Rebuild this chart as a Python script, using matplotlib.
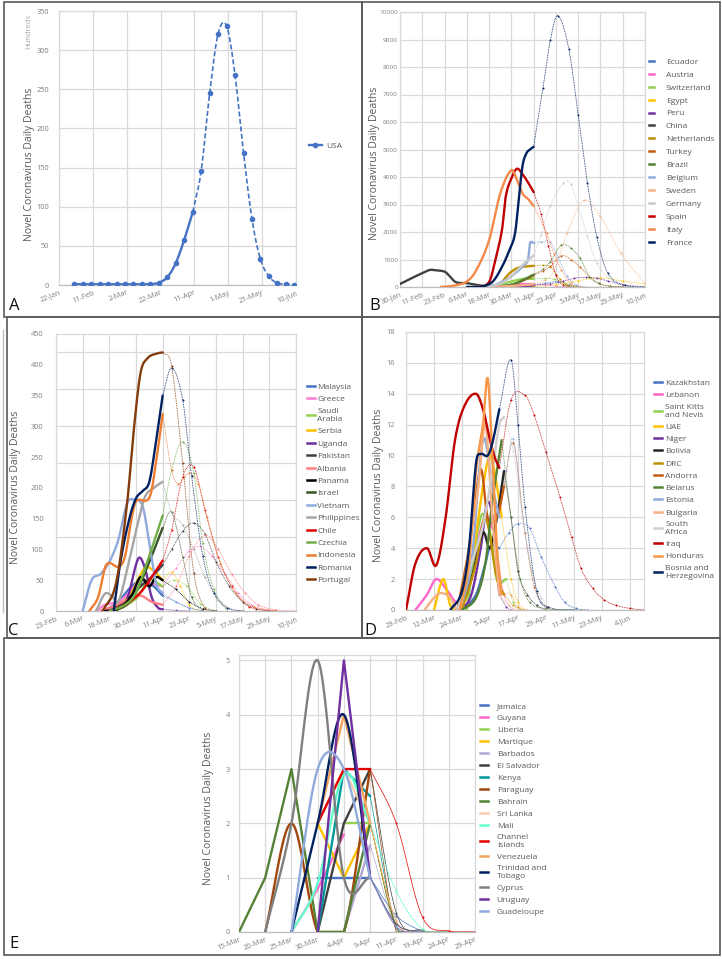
import datetime as dt
import numpy as np
import matplotlib
matplotlib.use('Agg')
import matplotlib.pyplot as plt
import matplotlib.dates as mdates
from matplotlib.lines import Line2D
from matplotlib.patches import Rectangle

# ------------------------------------------------------------------ data
# Panel A : USA (hundreds of deaths)
A_dates = ['31-Jan', '5-Feb', '10-Feb', '15-Feb', '20-Feb', '25-Feb', '1-Mar', '6-Mar', '11-Mar',
           '16-Mar', '21-Mar', '26-Mar', '31-Mar', '5-Apr', '10-Apr', '15-Apr', '20-Apr', '25-Apr',
           '30-Apr', '5-May', '10-May', '15-May', '20-May', '25-May', '30-May', '4-Jun', '9-Jun']
A_usa = [1, 1, 1, 1, 1, 1, 1, 1, 1, 1, 3, 10, 28, 58, 93, 146, 245, 321, 331, 268, 169, 84, 33, 11, 2.5, 1, 0]
A_observed_points = 15
A_xticks = ['22-Jan', '11-Feb', '2-Mar', '22-Mar', '11-Apr', '1-May', '21-May', '10-Jun']
A_yticks = [0, 50, 100, 150, 200, 250, 300, 350]

# Panel B
B_names = ['Ecuador', 'Austria', 'Switzerland', 'Egypt', 'Peru', 'China', 'Netherlands', 'Turkey',
           'Brazil', 'Belgium', 'Sweden', 'Germany', 'Spain', 'Italy', 'France']
B_obs = {
    'Ecuador': (['18-Mar', '30-Mar', '11-Apr'], [0, 30, 60]),
    'Austria': (['16-Mar', '26-Mar', '4-Apr', '11-Apr'], [0, 40, 100, 110]),
    'Switzerland': (['14-Mar', '22-Mar', '30-Mar', '5-Apr', '11-Apr'], [0, 50, 200, 290, 300]),
    'Egypt': (['18-Mar', '1-Apr', '11-Apr'], [0, 10, 20]),
    'Peru': (['18-Mar', '1-Apr', '11-Apr'], [0, 20, 60]),
    'China': (['30-Jan', '7-Feb', '11-Feb', '15-Feb', '18-Feb', '23-Feb', '25-Feb', '29-Feb', '6-Mar',
               '11-Mar', '16-Mar', '20-Mar'], [110, 380, 500, 620, 610, 560, 450, 180, 140, 80, 20, 5]),
    'Netherlands': (['12-Mar', '18-Mar', '24-Mar', '29-Mar', '2-Apr', '6-Apr', '11-Apr'], [0, 30, 130, 500, 680, 740, 770]),
    'Turkey': (['18-Mar', '28-Mar', '4-Apr', '11-Apr'], [0, 50, 200, 420]),
    'Brazil': (['18-Mar', '25-Mar', '1-Apr', '6-Apr', '11-Apr'], [0, 30, 120, 280, 450]),
    'Belgium': (['12-Mar', '20-Mar', '28-Mar', '2-Apr', '5-Apr', '8-Apr', '9-Apr', '11-Apr'],
                [0, 50, 300, 550, 740, 1000, 1580, 1600]),
    'Sweden': (['14-Mar', '25-Mar', '4-Apr', '11-Apr'], [0, 20, 60, 100]),
    'Germany': (['10-Mar', '18-Mar', '25-Mar', '30-Mar', '5-Apr', '11-Apr'], [0, 20, 150, 400, 800, 1150]),
    'Spain': (['12-Mar', '18-Mar', '21-Mar', '25-Mar', '27-Mar', '30-Mar', '2-Apr', '5-Apr', '8-Apr', '11-Apr'],
              [0, 180, 870, 2100, 3300, 3950, 4300, 4100, 3800, 3450]),
    'Italy': (['21-Feb', '28-Feb', '6-Mar', '11-Mar', '18-Mar', '24-Mar', '30-Mar', '2-Apr', '5-Apr', '8-Apr', '11-Apr'],
              [0, 50, 200, 600, 1700, 3400, 4250, 3900, 3400, 3200, 2950]),
    'France': (['6-Mar', '14-Mar', '20-Mar', '25-Mar', '29-Mar', '1-Apr', '3-Apr', '5-Apr', '7-Apr', '9-Apr', '11-Apr'],
               [0, 20, 200, 740, 1350, 1960, 3200, 4400, 4850, 5000, 5100]),
}
B_proj = {
    'Ecuador': (['11-Apr', '17-Apr', '24-Apr', '30-Apr', '6-May'], [60, 130, 200, 90, 0]),
    'Austria': (['11-Apr', '17-Apr', '23-Apr', '29-Apr'], [110, 80, 20, 0]),
    'Switzerland': (['11-Apr', '17-Apr', '22-Apr', '28-Apr', '5-May'], [300, 310, 280, 120, 0]),
    'Egypt': (['11-Apr', '23-Apr', '5-May', '17-May', '29-May', '10-Jun'], [20, 90, 230, 330, 220, 110]),
    'Peru': (['11-Apr', '20-Apr', '27-Apr', '3-May', '9-May', '15-May', '21-May', '29-May', '10-Jun'],
             [60, 120, 220, 320, 350, 320, 220, 80, 10]),
    'Netherlands': (['11-Apr', '16-Apr', '20-Apr', '25-Apr', '29-Apr', '5-May'], [770, 790, 740, 300, 80, 0]),
    'Turkey': (['11-Apr', '16-Apr', '20-Apr', '26-Apr', '1-May', '6-May', '11-May', '16-May', '22-May', '29-May'],
               [420, 580, 750, 1140, 1000, 720, 380, 130, 30, 5]),
    'Brazil': (['11-Apr', '16-Apr', '20-Apr', '26-Apr', '1-May', '6-May', '11-May', '16-May', '22-May', '29-May'],
               [450, 650, 925, 1530, 1420, 1050, 380, 130, 30, 5]),
    'Belgium': (['11-Apr', '15-Apr', '20-Apr', '24-Apr', '29-Apr', '4-May', '10-May'], [1600, 1640, 1620, 1100, 400, 80, 0]),
    'Sweden': (['11-Apr', '17-Apr', '22-Apr', '29-Apr', '8-May', '17-May', '28-May', '10-Jun'],
               [100, 250, 600, 1960, 3150, 2570, 1230, 130]),
    'Germany': (['11-Apr', '15-Apr', '20-Apr', '27-Apr', '1-May', '10-May', '15-May', '24-May', '1-Jun', '10-Jun'],
                [1150, 1900, 2940, 3780, 3730, 1840, 870, 200, 40, 0]),
    'Spain': (['11-Apr', '15-Apr', '19-Apr', '23-Apr', '27-Apr', '2-May'], [3450, 2650, 1500, 420, 80, 0]),
    'Italy': (['11-Apr', '18-Apr', '22-Apr', '26-Apr', '1-May', '7-May'], [2950, 1960, 1200, 620, 130, 0]),
    'France': (['11-Apr', '16-Apr', '20-Apr', '24-Apr', '30-Apr', '5-May', '10-May', '15-May', '21-May', '30-May', '10-Jun'],
               [5100, 7220, 8980, 9870, 8640, 6250, 3770, 1830, 500, 70, 0]),
}
B_xticks = ['30-Jan', '11-Feb', '23-Feb', '6-Mar', '18-Mar', '30-Mar', '11-Apr', '23-Apr', '5-May',
            '17-May', '29-May', '10-Jun']
B_yticks = [0, 1000, 2000, 3000, 4000, 5000, 6000, 7000, 8000, 9000, 10000]

# Panel C
C_names = ['Malaysia', 'Greece', 'Saudi\nArabia', 'Serbia', 'Uganda', 'Pakistan', 'Albania', 'Panama',
           'Israel', 'Vietnam', 'Philippines', 'Chile', 'Czechia', 'Indonesia', 'Romania', 'Portugal']
C_obs = {
    'Malaysia': (['16-Mar', '22-Mar', '28-Mar', '2-Apr', '7-Apr', '11-Apr'], [0, 15, 40, 50, 40, 25]),
    'Greece': (['12-Mar', '16-Mar', '22-Mar', '27-Mar', '1-Apr', '6-Apr', '11-Apr'], [0, 10, 15, 30, 50, 45, 40]),
    'Saudi\nArabia': (['20-Mar', '30-Mar', '5-Apr', '11-Apr'], [0, 20, 50, 40]),
    'Serbia': (['20-Mar', '28-Mar', '3-Apr', '7-Apr', '11-Apr'], [0, 30, 70, 65, 50]),
    'Uganda': (['20-Mar', '26-Mar', '31-Mar', '3-Apr', '6-Apr', '9-Apr', '11-Apr'], [0, 20, 85, 70, 23, 5, 3]),
    'Pakistan': (['18-Mar', '25-Mar', '1-Apr', '6-Apr', '11-Apr'], [0, 15, 40, 55, 75]),
    'Albania': (['14-Mar', '20-Mar', '26-Mar', '1-Apr', '6-Apr', '11-Apr'], [0, 8, 18, 25, 15, 10]),
    'Panama': (['16-Mar', '22-Mar', '28-Mar', '1-Apr', '5-Apr', '8-Apr', '11-Apr'], [0, 3, 25, 55, 40, 55, 50]),
    'Israel': (['18-Mar', '25-Mar', '30-Mar', '5-Apr', '11-Apr'], [0, 8, 30, 80, 135]),
    'Vietnam': (['6-Mar', '10-Mar', '14-Mar', '18-Mar', '22-Mar', '26-Mar', '29-Mar', '2-Apr', '5-Apr', '8-Apr', '11-Apr'],
                [0, 50, 60, 80, 115, 175, 181, 170, 110, 45, 29]),
    'Philippines': (['12-Mar', '16-Mar', '19-Mar', '22-Mar', '26-Mar', '30-Mar', '3-Apr', '7-Apr', '11-Apr'],
                    [0, 28, 25, 15, 67, 130, 185, 200, 210]),
    'Chile': (['18-Mar', '25-Mar', '1-Apr', '6-Apr', '11-Apr'], [0, 10, 30, 55, 82]),
    'Czechia': (['18-Mar', '25-Mar', '30-Mar', '5-Apr', '11-Apr'], [0, 10, 30, 90, 155]),
    'Indonesia': (['9-Mar', '13-Mar', '16-Mar', '18-Mar', '22-Mar', '25-Mar', '28-Mar', '30-Mar', '4-Apr', '6-Apr',
                   '9-Apr', '11-Apr'], [0, 23, 70, 78, 72, 88, 150, 178, 180, 196, 267, 320]),
    'Romania': (['20-Mar', '23-Mar', '27-Mar', '30-Mar', '2-Apr', '5-Apr', '8-Apr', '11-Apr'],
                [0, 80, 150, 183, 195, 210, 275, 350]),
    'Portugal': (['15-Mar', '21-Mar', '26-Mar', '29-Mar', '1-Apr', '4-Apr', '8-Apr', '11-Apr'],
                 [0, 45, 175, 294, 386, 410, 418, 420]),
}
C_proj = {
    'Malaysia': (['11-Apr', '17-Apr', '23-Apr', '29-Apr'], [25, 15, 5, 0]),
    'Greece': (['11-Apr', '17-Apr', '23-Apr', '28-Apr', '3-May', '9-May', '15-May', '21-May', '29-May'],
               [40, 70, 98, 105, 90, 60, 30, 10, 1]),
    'Saudi\nArabia': (['11-Apr', '16-Apr', '22-Apr', '28-Apr', '5-May'], [40, 50, 40, 12, 0]),
    'Serbia': (['11-Apr', '15-Apr', '19-Apr', '23-Apr', '28-Apr'], [50, 63, 40, 10, 0]),
    'Uganda': (['11-Apr', '17-Apr', '23-Apr'], [3, 1, 0]),
    'Pakistan': (['11-Apr', '15-Apr', '20-Apr', '25-Apr', '30-Apr', '5-May', '11-May', '17-May', '23-May', '29-May'],
                 [75, 100, 130, 143, 125, 80, 40, 15, 4, 0]),
    'Albania': (['11-Apr', '17-Apr', '23-Apr', '30-Apr', '6-May', '12-May', '18-May', '24-May', '1-Jun', '10-Jun'],
                [10, 40, 90, 123, 100, 60, 30, 10, 2, 0]),
    'Panama': (['11-Apr', '17-Apr', '23-Apr', '29-Apr', '5-May'], [50, 35, 15, 4, 0]),
    'Israel': (['11-Apr', '15-Apr', '20-Apr', '24-Apr', '29-Apr'], [135, 161, 88, 23, 0]),
    'Vietnam': (['11-Apr', '17-Apr', '23-Apr', '29-Apr'], [29, 15, 5, 0]),
    'Philippines': (['11-Apr', '15-Apr', '20-Apr', '25-Apr', '30-Apr', '5-May', '11-May', '17-May'],
                    [210, 160, 140, 100, 55, 25, 5, 0]),
    'Chile': (['11-Apr', '15-Apr', '20-Apr', '25-Apr', '30-Apr', '6-May', '12-May', '20-May', '1-Jun'],
              [82, 131, 218, 234, 164, 88, 40, 7, 0]),
    'Czechia': (['11-Apr', '15-Apr', '20-Apr', '25-Apr', '29-Apr', '4-May', '10-May'], [155, 229, 275, 224, 110, 35, 0]),
    'Indonesia': (['11-Apr', '15-Apr', '18-Apr', '23-Apr', '27-Apr', '1-May', '7-May', '14-May', '22-May', '1-Jun'],
                  [320, 229, 207, 224, 207, 153, 77, 29, 7, 0]),
    'Romania': (['11-Apr', '15-Apr', '20-Apr', '24-Apr', '29-Apr', '4-May', '10-May', '17-May'],
                [350, 395, 343, 220, 90, 29, 5, 0]),
    'Portugal': (['11-Apr', '15-Apr', '20-Apr', '25-Apr', '30-Apr', '5-May'], [420, 398, 240, 62, 5, 0]),
}
C_xticks = ['23-Feb', '6-Mar', '18-Mar', '30-Mar', '11-Apr', '23-Apr', '5-May', '17-May', '29-May', '10-Jun']
C_yticks = [0, 50, 100, 150, 200, 250, 300, 350, 400, 450]
C_gridlines = [60, 120, 180, 240, 300, 360, 420]

# Panel D
D_names = ['Kazakhstan', 'Lebanon', 'Saint Kitts\nand Nevis', 'UAE', 'Niger', 'Bolivia', 'DRC', 'Andorra',
           'Belarus', 'Estonia', 'Bulgaria', 'South\nAfrica', 'Iraq', 'Honduras', 'Bosnia and\nHerzegovina']
D_obs = {
    'Kazakhstan': (['24-Mar', '30-Mar', '3-Apr', '5-Apr', '9-Apr'], [0, 1, 3, 4.1, 4.0]),
    'Lebanon': (['4-Mar', '9-Mar', '13-Mar', '18-Mar', '22-Mar', '26-Mar', '30-Mar', '3-Apr', '7-Apr'],
                [0, 1, 2, 1.2, 0.5, 1.5, 4, 6, 5]),
    'Saint Kitts\nand Nevis': (['26-Mar', '1-Apr', '5-Apr', '8-Apr', '12-Apr'], [0, 6, 5, 2, 2]),
    'UAE': (['12-Mar', '16-Mar', '19-Mar', '23-Mar', '28-Mar', '2-Apr', '5-Apr', '8-Apr', '10-Apr'],
            [0, 2, 0.3, 0, 3, 8, 10, 8, 6]),
    'Niger': (['24-Mar', '28-Mar', '1-Apr', '4-Apr', '7-Apr', '9-Apr'], [0, 1, 4, 7, 5, 1]),
    'Bolivia': (['22-Mar', '28-Mar', '2-Apr', '5-Apr', '8-Apr', '11-Apr'], [0, 2, 5, 4, 6, 9]),
    'DRC': (['24-Mar', '30-Mar', '3-Apr', '8-Apr', '11-Apr'], [0, 3, 6, 2, 1]),
    'Andorra': (['22-Mar', '27-Mar', '1-Apr', '4-Apr', '8-Apr', '11-Apr'], [0, 4, 9.1, 6, 6, 8]),
    'Belarus': (['24-Mar', '30-Mar', '3-Apr', '6-Apr', '10-Apr'], [0, 0.8, 3, 7, 11]),
    'Estonia': (['23-Mar', '28-Mar', '2-Apr', '6-Apr', '9-Apr'], [0, 3, 11, 8, 6]),
    'Bulgaria': (['8-Mar', '12-Mar', '15-Mar', '19-Mar', '23-Mar', '27-Mar', '31-Mar', '3-Apr', '6-Apr', '9-Apr'],
                 [0, 0.8, 1.1, 0.8, 0, 4, 8, 12, 6, 1]),
    'South\nAfrica': (['22-Mar', '28-Mar', '2-Apr', '6-Apr', '9-Apr', '11-Apr'], [0, 3, 5.5, 9, 12, 12.5]),
    'Iraq': (['29-Feb', '4-Mar', '9-Mar', '13-Mar', '17-Mar', '21-Mar', '25-Mar', '30-Mar', '2-Apr', '5-Apr',
              '7-Apr', '9-Apr'], [0, 3, 4, 2.9, 6, 11, 13.2, 14, 13, 11, 9.9, 9.2]),
    'Honduras': (['23-Mar', '27-Mar', '30-Mar', '2-Apr', '4-Apr', '6-Apr', '8-Apr', '10-Apr'], [0, 3, 9, 12, 15, 10, 4, 1]),
    'Bosnia and\nHerzegovina': (['19-Mar', '24-Mar', '27-Mar', '30-Mar', '1-Apr', '4-Apr', '6-Apr', '9-Apr'],
                                [0, 1.2, 4, 9.5, 10.1, 10, 10.8, 13]),
}
D_proj = {
    'Kazakhstan': (['9-Apr', '13-Apr', '17-Apr', '22-Apr', '27-Apr', '3-May', '7-May', '12-May', '17-May'],
                   [4.0, 5.0, 5.6, 5.3, 3.4, 1.5, 0.5, 0.1, 0]),
    'Lebanon': (['7-Apr', '11-Apr', '15-Apr'], [5, 1, 0]),
    'Saint Kitts\nand Nevis': (['12-Apr', '15-Apr', '18-Apr'], [2, 0.5, 0]),
    'UAE': (['10-Apr', '14-Apr', '17-Apr', '20-Apr'], [6, 2, 0.5, 0]),
    'Niger': (['9-Apr', '12-Apr', '14-Apr'], [1, 0.2, 0]),
    'Bolivia': (['11-Apr', '14-Apr', '17-Apr', '21-Apr', '25-Apr', '29-Apr'], [9, 6, 2.5, 1, 0.3, 0]),
    'DRC': (['11-Apr', '15-Apr', '19-Apr'], [1, 0.3, 0]),
    'Andorra': (['11-Apr', '15-Apr', '20-Apr', '24-Apr', '29-Apr', '3-May'], [8, 10.8, 5, 1.5, 0.2, 0]),
    'Belarus': (['10-Apr', '14-Apr', '18-Apr', '22-Apr', '29-Apr', '14-May'], [11, 6, 2, 0.5, 0.1, 0]),
    'Estonia': (['9-Apr', '12-Apr', '15-Apr', '19-Apr', '23-Apr', '27-Apr', '1-May'], [6, 9, 11.1, 6, 2.5, 0.5, 0]),
    'Bulgaria': (['9-Apr', '13-Apr', '17-Apr'], [1, 0.3, 0]),
    'South\nAfrica': (['11-Apr', '15-Apr', '19-Apr', '23-Apr', '27-Apr', '1-May'], [12.5, 10.3, 6, 2.5, 0.8, 0]),
    'Iraq': (['9-Apr', '14-Apr', '20-Apr', '24-Apr', '29-Apr', '5-May', '10-May', '14-May', '19-May', '24-May',
              '29-May', '4-Jun', '10-Jun'], [9.2, 13.6, 13.9, 12.6, 10.2, 7.3, 4.7, 2.7, 1.4, 0.65, 0.3, 0.1, 0]),
    'Honduras': (['10-Apr', '14-Apr', '17-Apr', '21-Apr'], [1, 1, 0.2, 0]),
    'Bosnia and\nHerzegovina': (['9-Apr', '14-Apr', '17-Apr', '20-Apr', '25-Apr', '30-Apr', '11-May'],
                                [13, 16.2, 12, 6.7, 1.2, 0.2, 0]),
}
D_xticks = ['29-Feb', '12-Mar', '24-Mar', '5-Apr', '17-Apr', '29-Apr', '11-May', '23-May', '4-Jun']
D_yticks = [0, 2, 4, 6, 8, 10, 12, 14, 16, 18]

# Panel E (category axis)
E_categories = ['15-Mar', '20-Mar', '25-Mar', '30-Mar', '4-Apr', '9-Apr', '11-Apr', '19-Apr', '24-Apr', '29-Apr']
E_names = ['Jamaica', 'Guyana', 'Liberia', 'Martique', 'Barbados', 'El Salvador', 'Kenya', 'Paraguay', 'Bahrain',
           'Sri Lanka', 'Mali', 'Channel\nIslands', 'Venezuela', 'Trinidad and\nTobago', 'Cyprus', 'Uruguay', 'Guadeloupe']
E_obs = {
    'Jamaica': ([3, 4, 5], [1, 1, 1]),
    'Guyana': ([2, 3, 4], [0, 0.8, 1.8]),
    'Liberia': ([4, 5], [2, 2]),
    'Martique': ([3, 4, 5], [2, 1, 2]),
    'Barbados': ([4, 5], [0, 1.6]),
    'El Salvador': ([3, 4, 5], [0, 2, 3]),
    'Kenya': ([3, 4, 5], [0, 3, 2.5]),
    'Paraguay': ([1, 2, 3, 4, 5], [0, 2, 0, 0, 3]),
    'Bahrain': ([0, 1, 2, 3, 4, 5], [0, 1, 3, 0, 0, 2]),
    'Sri Lanka': ([3, 4, 5], [2, 3, 2]),
    'Mali': ([2, 3, 4, 5], [0, 0.9, 2.9, 2]),
    'Channel\nIslands': ([3, 4, 5], [2, 3, 3]),
    'Venezuela': ([3, 4, 5], [2, 4, 2]),
    'Trinidad and\nTobago': ([2, 3, 4, 5], [0, 2, 4, 1]),
    'Cyprus': ([1, 2, 3, 4, 5], [0, 2, 5, 1, 1]),
    'Uruguay': ([3, 4, 5], [0, 5, 1]),
    'Guadeloupe': ([2, 3, 4, 5], [0, 3, 3, 1]),
}
E_proj = {
    'Jamaica': ([5, 6, 7], [1, 0.3, 0]),
    'Liberia': ([5, 6, 7], [2, 0.1, 0]),
    'Martique': ([5, 6, 7], [2, 0.1, 0]),
    'Barbados': ([5, 6, 7], [1.6, 0.1, 0]),
    'El Salvador': ([5, 6, 7, 8], [3, 0.35, 0.03, 0]),
    'Kenya': ([5, 6, 7], [2.5, 0.1, 0]),
    'Paraguay': ([5, 6, 7, 8, 9], [3, 0, 0, 0, 0]),
    'Bahrain': ([5, 6, 7], [2, 0.1, 0]),
    'Sri Lanka': ([5, 6, 7], [2, 0.2, 0]),
    'Mali': ([5, 6, 7, 8], [2, 0.75, 0.05, 0]),
    'Channel\nIslands': ([5, 6, 7, 8, 9], [3, 2, 0.27, 0.02, 0]),
    'Venezuela': ([5, 6, 7], [2, 0.2, 0]),
    'Trinidad and\nTobago': ([5, 6, 7], [1, 0.15, 0]),
    'Cyprus': ([5, 6, 7], [1, 0.15, 0]),
    'Uruguay': ([5, 6, 7], [1, 0.1, 0]),
    'Guadeloupe': ([5, 6, 7], [1, 0.1, 0]),
}
E_yticks = [0, 1, 2, 3, 4, 5]

# ------------------------------------------------------------------ styles
B_colors = ['#4472C4', '#FF66CC', '#92D050', '#FFC000', '#7030A0', '#404040', '#BF9000', '#C55A11',
            '#548235', '#8FAADC', '#F4B183', '#C9C9C9', '#C00000', '#F4894B', '#002060']
C_colors = ['#4472C4', '#FF7FD4', '#92D050', '#FFC000', '#7030A0', '#404040', '#FF7C80', '#000000',
            '#375623', '#8FAADC', '#A5A5A5', '#E00000', '#70AD47', '#ED7D31', '#002060', '#843C0C']
D_colors = ['#4472C4', '#FF66CC', '#92D050', '#FFC000', '#7030A0', '#262626', '#BF9000', '#C55A11',
            '#548235', '#8FAADC', '#F4B183', '#D0CECE', '#C00000', '#F79646', '#002060']
E_colors = ['#4472C4', '#FF66CC', '#92D050', '#FFC000', '#B4A7D6', '#404040', '#009999', '#A0460E',
            '#548235', '#F8CBAD', '#66FFCC', '#E00000', '#F4A460', '#002060', '#7F7F7F', '#7030A0', '#8FAADC']
E_smooth = {'Guyana', 'Paraguay', 'Mali', 'Trinidad and\nTobago', 'Cyprus', 'Guadeloupe'}

plt.rcParams['font.family'] = ['Open Sans', 'DejaVu Sans']
W, H = 722, 959
fig = plt.figure(figsize=(W / 100, H / 100), dpi=100)
GRID = '#D9D9D9'
TICK = '#7F7F7F'
TXT = '#595959'


def D(s):
    return mdates.date2num(dt.datetime.strptime(s + '-2020', '%d-%b-%Y'))


def px_axes(l, t, r, b):
    return fig.add_axes([l / W, 1 - b / H, (r - l) / W, (b - t) / H])


def smooth(x, y, n=24):
    x = np.asarray(x, float)
    y = np.asarray(y, float)
    if len(x) < 3:
        return x, y
    m = np.empty_like(y)
    m[1:-1] = (y[2:] - y[:-2]) / (x[2:] - x[:-2])
    m[0] = (y[1] - y[0]) / (x[1] - x[0])
    m[-1] = (y[-1] - y[-2]) / (x[-1] - x[-2])
    xs, ys = [], []
    t = np.linspace(0, 1, n, endpoint=False)
    for i in range(len(x) - 1):
        h = x[i + 1] - x[i]
        h00 = 2 * t ** 3 - 3 * t ** 2 + 1
        h10 = t ** 3 - 2 * t ** 2 + t
        h01 = -2 * t ** 3 + 3 * t ** 2
        h11 = t ** 3 - t ** 2
        ys.append(h00 * y[i] + h10 * h * m[i] + h01 * y[i + 1] + h11 * h * m[i + 1])
        xs.append(x[i] + t * h)
    xs.append([x[-1]])
    ys.append([y[-1]])
    return np.concatenate(xs), np.concatenate(ys)


def style_axes(ax, xlim, xticks_pos, xticks_lab, ylim, yticks, ylabels, ypad, ygrid=True, ysize=5.3):
    ax.set_xlim(*xlim)
    ax.set_ylim(*ylim)
    ax.set_xticks(xticks_pos)
    ax.set_xticklabels(xticks_lab, rotation=22, ha='right', va='top', rotation_mode='anchor')
    ax.set_yticks(yticks)
    ax.set_yticklabels(ylabels)
    ax.tick_params(axis='both', length=0, labelsize=5.3, colors=TICK)
    ax.tick_params(axis='y', pad=ypad, labelsize=ysize)
    ax.tick_params(axis='x', pad=3)
    ax.grid(True, axis='x', color=GRID, lw=0.9)
    if ygrid:
        ax.grid(True, axis='y', color=GRID, lw=0.9)
    ax.set_axisbelow(True)
    for s in ax.spines.values():
        s.set_color(GRID)
        s.set_linewidth(0.9)
    ax.spines['bottom'].set_color('#BFBFBF')


def draw_panel(ax, names, colors, obs, proj, conv, smooth_set=None, proj_ls=(0, (1, 1)), proj_lw=0.6):
    for name, c in zip(names, colors):
        sm = True if smooth_set is None else (name in smooth_set)
        if name in obs:
            xs, ys = obs[name]
            x = np.array([conv(v) for v in xs])
            if sm:
                sx, sy = smooth(x, ys)
            else:
                sx, sy = x, np.asarray(ys, float)
            ax.plot(sx, np.clip(sy, 0, None), color=c, lw=1.7, solid_capstyle='round', solid_joinstyle='round', zorder=3)
        if name in proj:
            xs, ys = proj[name]
            x = np.array([conv(v) for v in xs])
            sx, sy = smooth(x, ys)
            ax.plot(sx, np.clip(sy, 0, None), color=c, lw=proj_lw, ls=proj_ls, zorder=2)
            ax.plot(x[1:], ys[1:], ls='none', marker='o', ms=1.4, mew=0, color=c, zorder=2)


def legend(ax, names, colors, x_px, y_px, spacing, hlen, hpad):
    handles = [Line2D([0], [0], color=c, lw=1.8) for c in colors]
    ax.legend(handles, names, loc='upper left', bbox_to_anchor=(x_px / W, 1 - y_px / H),
              bbox_transform=fig.transFigure, frameon=False, fontsize=6.0, handlelength=hlen,
              handletextpad=hpad, labelspacing=spacing, labelcolor=TXT, borderpad=0, borderaxespad=0)


def ylab(x_px, y_px, text, size=7.5, color=TXT):
    fig.text(x_px / W, 1 - y_px / H, text, rotation=90, ha='center', va='center', fontsize=size, color=color)


# ------------------------------------------------------------------ panel A
axA = px_axes(59, 11, 296, 285)
style_axes(axA, (D('22-Jan'), D('10-Jun')), [D(s) for s in A_xticks], A_xticks, (0, 350),
           A_yticks, [str(v) for v in A_yticks], 7)
ax_x = np.array([D(s) for s in A_dates])
n = A_observed_points
sx, sy = smooth(ax_x[:n], A_usa[:n])
axA.plot(sx, np.clip(sy, 0, None), color='#4472C4', lw=1.7, zorder=3)
sx, sy = smooth(ax_x[n - 1:], A_usa[n - 1:])
axA.plot(sx, np.clip(sy, 0, None), color='#4472C4', lw=1.2, ls=(0, (3, 1.5)), zorder=3)
axA.plot(ax_x, A_usa, ls='none', marker='o', ms=3, color='#4472C4', zorder=4)
axA.legend([Line2D([0], [0], color='#4472C4', lw=1.7, marker='o', ms=3)], ['USA'], loc='center left',
           bbox_to_anchor=(309 / W, 1 - 146 / H), bbox_transform=fig.transFigure, frameon=False,
           fontsize=6, handlelength=1.5, handletextpad=0.6, labelcolor=TXT, borderpad=0, borderaxespad=0)
ylab(30, 164, 'Novel Coronavirus Daily Deaths')
ylab(29, 31, 'Hundreds', size=5.5, color='#A6A6A6')

# ------------------------------------------------------------------ panel B
axB = px_axes(400, 12, 645, 287)
style_axes(axB, (D('30-Jan'), D('10-Jun')), [D(s) for s in B_xticks], B_xticks, (0, 10000),
           B_yticks, [str(v) for v in B_yticks], 1.5, ysize=4.6)
draw_panel(axB, B_names, B_colors, B_obs, B_proj, D)
legend(axB, B_names, B_colors, 649, 58, 0.61, 0.6, 1.4)
ylab(374, 163, 'Novel Coronavirus Daily Deaths')

# ------------------------------------------------------------------ panel C
axC = px_axes(56, 334, 296, 611)
style_axes(axC, (D('23-Feb'), D('10-Jun')), [D(s) for s in C_xticks], C_xticks, (0, 450),
           C_yticks, [str(v) for v in C_yticks], 9, ygrid=False)
for g in C_gridlines:
    axC.axhline(g, color=GRID, lw=0.9, zorder=0.5)
draw_panel(axC, C_names, C_colors, C_obs, C_proj, D)
legend(axC, C_names, C_colors, 307, 383, 0.55, 0.9, 0.35)
ylab(16, 487, 'Novel Coronavirus Daily Deaths')

# ------------------------------------------------------------------ panel D
axD = px_axes(406, 332, 644, 610)
style_axes(axD, (D('29-Feb'), D('10-Jun')), [D(s) for s in D_xticks], D_xticks, (0, 18),
           D_yticks, [str(v) for v in D_yticks], 8)
draw_panel(axD, D_names, D_colors, D_obs, D_proj, D)
legend(axD, D_names, D_colors, 654, 379, 0.53, 1.0, 0.35)
ylab(378, 485, 'Novel Coronavirus Daily Deaths')

# ------------------------------------------------------------------ panel E
axE = px_axes(239, 655, 475, 932)
style_axes(axE, (0, 9), list(range(len(E_categories))), E_categories, (0, 5.1),
           E_yticks, [str(v) for v in E_yticks], 6.5)
draw_panel(axE, E_names, E_colors, E_obs, E_proj, lambda v: v, smooth_set=E_smooth, proj_ls='-', proj_lw=0.5)
legend(axE, E_names, E_colors, 480, 702, 0.50, 0.9, 1.1)
ylab(209, 808, 'Novel Coronavirus Daily Deaths')

# ------------------------------------------------------------------ frames and panel letters
def frame(l, t, r, b, color='#595959', lw=1.2):
    fig.add_artist(Rectangle((l / W, 1 - b / H), (r - l) / W, (b - t) / H, transform=fig.transFigure,
                             fill=False, edgecolor=color, lw=lw))


frame(4, 2, 362, 317)
frame(362, 2, 720, 317)
frame(7, 317, 362, 638)
frame(362, 317, 720, 638)
frame(4, 638, 720, 955)
fig.add_artist(Line2D([3 / W, 3 / W], [1 - 330 / H, 1 - 612 / H], transform=fig.transFigure, color='#BFBFBF', lw=1))

for letter, x, y in [('A', 14, 306), ('B', 375, 306), ('C', 13, 631), ('D', 370, 631), ('E', 14, 944)]:
    fig.text(x / W, 1 - y / H, letter, ha='center', va='center', fontsize=12, color='#111111')

fig.savefig('out.png', dpi=100)
